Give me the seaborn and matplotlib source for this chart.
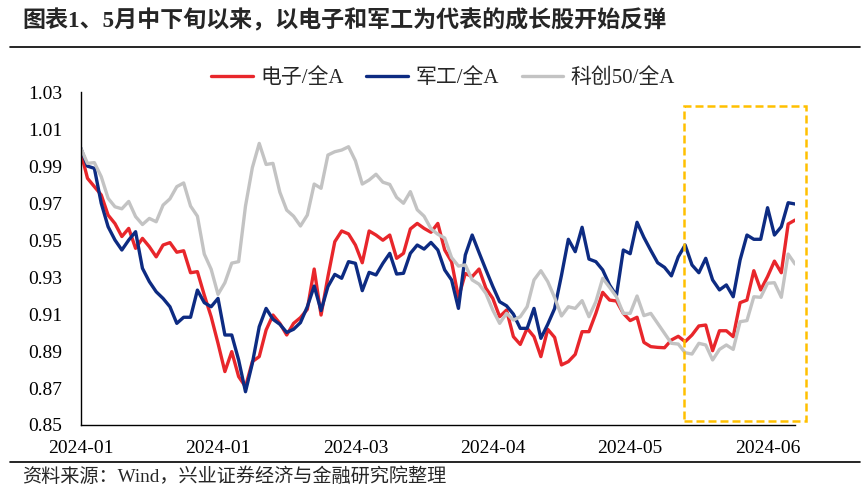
import matplotlib
matplotlib.use("Agg")
import matplotlib.pyplot as plt
from matplotlib.patches import Rectangle
from matplotlib.lines import Line2D
import numpy as np
import pandas as pd
import seaborn as sns

# chart text
title = "图表1、5月中下旬以来，以电子和军工为代表的成长股开始反弹"
source = "资料来源：Wind，兴业证券经济与金融研究院整理"
series_names = ["电子/全A", "军工/全A", "科创50/全A"]
tick_pos = [0, 20, 40, 60, 80, 100]
tick_labels = ["2024-01", "2024-01", "2024-03", "2024-04", "2024-05", "2024-06"]

# relative strength vs 全A (trading days)
dianzi = [0.998, 0.9835, 0.979, 0.9745, 0.9636, 0.959, 0.952, 0.9564, 0.9456, 0.951,
          0.9465, 0.941, 0.9474, 0.9487, 0.9435, 0.9443, 0.9324, 0.933, 0.9203, 0.9086,
          0.8942, 0.8789, 0.8897, 0.8762, 0.8707, 0.8843, 0.887, 0.9014, 0.9095, 0.905,
          0.8987, 0.905, 0.9081, 0.9126, 0.9344, 0.9095, 0.9303, 0.9492, 0.955, 0.9534,
          0.9474, 0.9378, 0.955, 0.9528, 0.950, 0.9528, 0.9402, 0.9429, 0.9561, 0.9591,
          0.9564, 0.9543, 0.9591, 0.9447, 0.9384, 0.919, 0.932, 0.9303, 0.9344, 0.924,
          0.9185, 0.9086, 0.9122, 0.8978, 0.8936, 0.9023, 0.8978, 0.887, 0.9018, 0.8974,
          0.8825, 0.8843, 0.8882, 0.9005, 0.9005, 0.9104, 0.9218, 0.9176, 0.9171, 0.9104,
          0.9065, 0.9083, 0.8947, 0.8924, 0.892, 0.8918, 0.896, 0.898, 0.8951, 0.8987,
          0.9036, 0.9041, 0.8902, 0.901, 0.901, 0.8978, 0.9162, 0.9176, 0.9335, 0.9231,
          0.9303, 0.9387, 0.9324, 0.9588, 0.9609]

jungong = [1.0, 0.9901, 0.9889, 0.970, 0.9573, 0.9501, 0.9447, 0.9501, 0.9546, 0.9348,
           0.9276, 0.9221, 0.9185, 0.914, 0.905, 0.9083, 0.9083, 0.923, 0.9162, 0.914,
           0.9185, 0.8987, 0.8987, 0.8852, 0.868, 0.8834, 0.9032, 0.9131, 0.9072, 0.9045,
           0.9001, 0.9018, 0.9054, 0.914, 0.9252, 0.9119, 0.9249, 0.9315, 0.9294, 0.9384,
           0.9375, 0.9227, 0.9326, 0.9312, 0.9375, 0.9429, 0.9317, 0.9321, 0.9429, 0.9474,
           0.9452, 0.9488, 0.9447, 0.9339, 0.9285, 0.9131, 0.942, 0.9528, 0.9433, 0.934,
           0.925, 0.9167, 0.9145, 0.91, 0.9023, 0.9023, 0.9131, 0.8969, 0.9045, 0.913,
           0.931, 0.9505, 0.9438, 0.957, 0.9398, 0.9384, 0.9339, 0.9258, 0.92, 0.9447,
           0.9427, 0.9597, 0.9515, 0.9445, 0.9378, 0.9353, 0.9307, 0.941, 0.9474, 0.9366,
           0.9324, 0.9402, 0.9285, 0.9231, 0.9258, 0.9194, 0.9393, 0.9528, 0.9505, 0.9505,
           0.9676, 0.9528, 0.9573, 0.9703, 0.9696]

kechuang = [1.0, 0.9916, 0.992, 0.9844, 0.9727, 0.9681, 0.967, 0.971, 0.9628, 0.9585,
            0.9618, 0.96, 0.969, 0.9724, 0.979, 0.981, 0.9685, 0.963, 0.9425, 0.9343,
            0.9207, 0.927, 0.9376, 0.9384, 0.9685, 0.9893, 1.0024, 0.991, 0.9916, 0.976,
            0.9663, 0.963, 0.9577, 0.9636, 0.9804, 0.9781, 0.9961, 0.9979, 0.9988, 1.0006,
            0.993, 0.9804, 0.9826, 0.9857, 0.9814, 0.9802, 0.9732, 0.97, 0.9763, 0.9665,
            0.963, 0.9562, 0.9532, 0.9512, 0.9406, 0.936, 0.9366, 0.9285, 0.9262, 0.9212,
            0.9122, 0.905, 0.9104, 0.9068, 0.9086, 0.914, 0.9285, 0.9335, 0.9276, 0.919,
            0.909, 0.914, 0.9131, 0.9173, 0.9086, 0.9167, 0.9294, 0.9245, 0.9194, 0.9104,
            0.9104, 0.9198, 0.9092, 0.9104, 0.905, 0.8996, 0.8942, 0.8938, 0.8891, 0.8884,
            0.8942, 0.8933, 0.8852, 0.8909, 0.8933, 0.8909, 0.9059, 0.9065, 0.9194, 0.9191,
            0.9267, 0.927, 0.9191, 0.9425, 0.9371]

colors = ["#E8262B", "#0D2B82", "#C3C3C3"]

df = pd.DataFrame({"day": np.arange(len(dianzi)),
                   series_names[0]: dianzi,
                   series_names[1]: jungong,
                   series_names[2]: kechuang})

sns.set_style("white")
plt.rcParams["font.family"] = ["Liberation Serif", "Noto Sans CJK SC"]
plt.rcParams["axes.unicode_minus"] = False

fig = plt.figure(figsize=(8.67, 4.9), dpi=100)
ax = fig.add_axes([0.093, 0.1327, 0.824, 0.6787])

for name, c in zip(series_names, colors):
    sns.lineplot(data=df, x="day", y=name, color=c, linewidth=2.4, label=name, ax=ax)

ax.set_xlim(0, len(dianzi) - 1)
ax.set_ylim(0.85, 1.03)
ax.set_yticks(np.arange(0.85, 1.031, 0.02))
ax.set_yticklabels([f"{v:.2f}" for v in np.arange(0.85, 1.031, 0.02)])
ax.set_xticks(tick_pos)
ax.set_xticklabels(tick_labels)
ax.set_xlabel("")
ax.set_ylabel("")
ax.grid(False)
for s in ["top", "right"]:
    ax.spines[s].set_visible(False)
for s in ["left", "bottom"]:
    ax.spines[s].set_color("black")
    ax.spines[s].set_linewidth(1.0)
ax.tick_params(axis="both", direction="in", length=5, width=1, labelsize=14, colors="black")
ax.tick_params(axis="x", pad=11)
ax.tick_params(axis="y", pad=13)

# highlight box for the rebound since mid/late May
box = Rectangle((87.8, 0.8523), 17.8, 0.1705, fill=False, edgecolor="#FFC000",
                linewidth=1.8, linestyle=(0, (3.2, 1.6)), clip_on=False, zorder=5)
ax.add_patch(box)

ax.legend(loc="center", bbox_to_anchor=(443 / 867, 1 - 78 / 490), bbox_transform=fig.transFigure,
          ncol=3, frameon=False, fontsize=15, handlelength=2.0, handletextpad=0.35,
          columnspacing=1.1)

fig.text(22 / 867, 1 - 21 / 490, title, fontsize=16.6, fontweight="bold", va="center", ha="left")
fig.text(22 / 867, 1 - 477 / 490, source, fontsize=13.8, va="center", ha="left")
fig.add_artist(Line2D([10 / 867, 860 / 867], [1 - 47 / 490] * 2, color="black", linewidth=1.2))
fig.add_artist(Line2D([10 / 867, 860 / 867], [1 - 462 / 490] * 2, color="black", linewidth=1.2))

fig.savefig("out.png", dpi=100)
